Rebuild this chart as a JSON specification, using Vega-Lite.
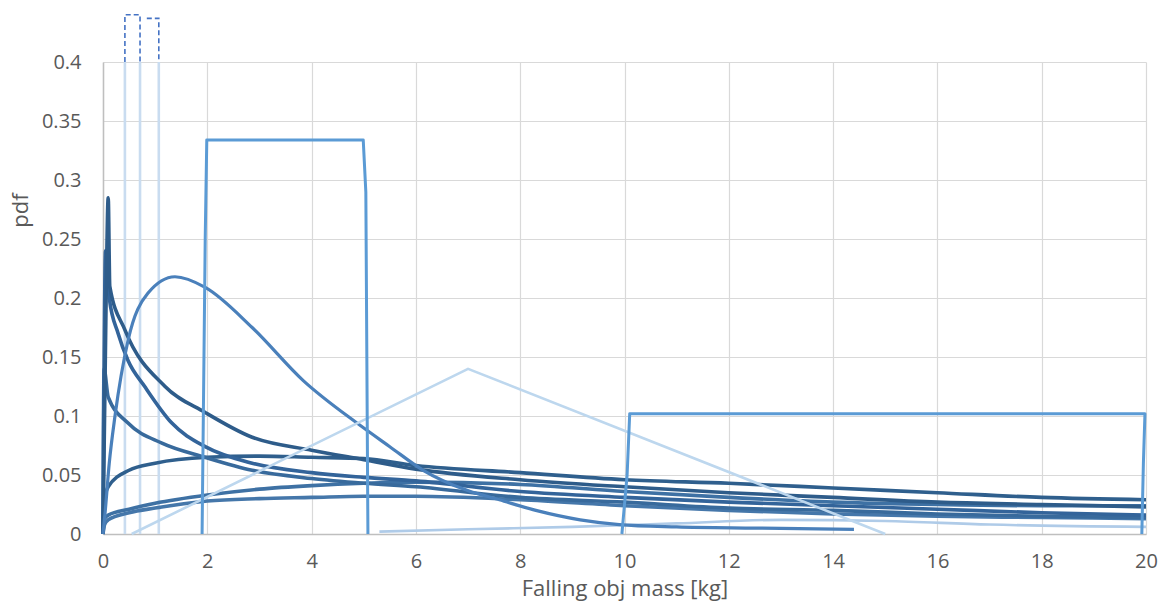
{
  "$schema": "https://vega.github.io/schema/vega-lite/v6.json",
  "width": 1043,
  "height": 472,
  "autosize": {"type": "none"},
  "padding": {"left": 103, "top": 62, "right": 22, "bottom": 78},
  "background": "white",
  "config": {
    "view": {"stroke": null},
    "axis": {
      "gridColor": "#D9D9D9",
      "gridWidth": 1.2,
      "domainColor": "#BFBFBF",
      "domainWidth": 1.5,
      "ticks": false,
      "labelFlush": false,
      "labelColor": "#595959",
      "labelFont": "Open Sans",
      "labelFontSize": 20,
      "titleColor": "#595959",
      "titleFont": "Open Sans",
      "titleFontSize": 22,
      "titleFontWeight": "normal"
    }
  },
  "datasets": {
    "verticals": [
      {"s": "V1", "i": 0, "x": 0.42, "y": 0},
      {"s": "V1", "i": 1, "x": 0.42, "y": 0.4},
      {"s": "V2", "i": 0, "x": 0.71, "y": 0},
      {"s": "V2", "i": 1, "x": 0.71, "y": 0.4},
      {"s": "V3", "i": 0, "x": 1.07, "y": 0},
      {"s": "V3", "i": 1, "x": 1.07, "y": 0.4}
    ],
    "light": [
      {"s": "L", "x": 5.3, "y": 0.002},
      {"s": "L", "x": 7, "y": 0.004},
      {"s": "L", "x": 9, "y": 0.006},
      {"s": "L", "x": 11, "y": 0.009},
      {"s": "L", "x": 13, "y": 0.012},
      {"s": "L", "x": 15, "y": 0.011},
      {"s": "L", "x": 17, "y": 0.008},
      {"s": "L", "x": 20, "y": 0.006}
    ],
    "dark": [
      {"s": "F", "x": 0, "y": 0},
      {"s": "F", "x": 0.03, "y": 0.008},
      {"s": "F", "x": 0.1, "y": 0.012},
      {"s": "F", "x": 0.5, "y": 0.018},
      {"s": "F", "x": 1, "y": 0.022},
      {"s": "F", "x": 2, "y": 0.028},
      {"s": "F", "x": 3, "y": 0.03},
      {"s": "F", "x": 4, "y": 0.031},
      {"s": "F", "x": 5, "y": 0.032},
      {"s": "F", "x": 6, "y": 0.032},
      {"s": "F", "x": 8, "y": 0.029},
      {"s": "F", "x": 10, "y": 0.024},
      {"s": "F", "x": 12, "y": 0.02},
      {"s": "F", "x": 14, "y": 0.017},
      {"s": "F", "x": 16, "y": 0.015},
      {"s": "F", "x": 18, "y": 0.014},
      {"s": "F", "x": 20, "y": 0.013},
      {"s": "E", "x": 0, "y": 0},
      {"s": "E", "x": 0.03, "y": 0.013},
      {"s": "E", "x": 0.1, "y": 0.016},
      {"s": "E", "x": 0.5, "y": 0.021},
      {"s": "E", "x": 1, "y": 0.026},
      {"s": "E", "x": 2, "y": 0.033},
      {"s": "E", "x": 3, "y": 0.038},
      {"s": "E", "x": 4, "y": 0.041},
      {"s": "E", "x": 5, "y": 0.043},
      {"s": "E", "x": 6, "y": 0.044},
      {"s": "E", "x": 8, "y": 0.042},
      {"s": "E", "x": 10, "y": 0.036},
      {"s": "E", "x": 12, "y": 0.031},
      {"s": "E", "x": 14, "y": 0.027},
      {"s": "E", "x": 16, "y": 0.025},
      {"s": "E", "x": 18, "y": 0.024},
      {"s": "E", "x": 20, "y": 0.024},
      {"s": "D", "x": 0, "y": 0.005},
      {"s": "D", "x": 0.02, "y": 0.028},
      {"s": "D", "x": 0.1, "y": 0.04},
      {"s": "D", "x": 0.5, "y": 0.054},
      {"s": "D", "x": 1, "y": 0.06},
      {"s": "D", "x": 2, "y": 0.065},
      {"s": "D", "x": 3, "y": 0.066},
      {"s": "D", "x": 4, "y": 0.065},
      {"s": "D", "x": 5, "y": 0.064},
      {"s": "D", "x": 6, "y": 0.058},
      {"s": "D", "x": 8, "y": 0.052},
      {"s": "D", "x": 10, "y": 0.046},
      {"s": "D", "x": 12, "y": 0.043},
      {"s": "D", "x": 14, "y": 0.039},
      {"s": "D", "x": 16, "y": 0.035},
      {"s": "D", "x": 18, "y": 0.031},
      {"s": "D", "x": 20, "y": 0.029},
      {"s": "C", "x": 0, "y": 0},
      {"s": "C", "x": 0.02, "y": 0.14},
      {"s": "C", "x": 0.1, "y": 0.116},
      {"s": "C", "x": 0.48, "y": 0.094},
      {"s": "C", "x": 1.13, "y": 0.077},
      {"s": "C", "x": 1.96, "y": 0.065},
      {"s": "C", "x": 2.86, "y": 0.054},
      {"s": "C", "x": 4, "y": 0.047},
      {"s": "C", "x": 5, "y": 0.043},
      {"s": "C", "x": 6, "y": 0.04},
      {"s": "C", "x": 8, "y": 0.031},
      {"s": "C", "x": 10, "y": 0.027},
      {"s": "C", "x": 12, "y": 0.022},
      {"s": "C", "x": 14, "y": 0.02},
      {"s": "C", "x": 16, "y": 0.017},
      {"s": "C", "x": 18, "y": 0.015},
      {"s": "C", "x": 20, "y": 0.014},
      {"s": "B", "x": 0, "y": 0},
      {"s": "B", "x": 0.05, "y": 0.24},
      {"s": "B", "x": 0.12, "y": 0.2},
      {"s": "B", "x": 0.29, "y": 0.17},
      {"s": "B", "x": 0.48, "y": 0.147},
      {"s": "B", "x": 0.8, "y": 0.125},
      {"s": "B", "x": 1.32, "y": 0.094},
      {"s": "B", "x": 1.96, "y": 0.074},
      {"s": "B", "x": 2.86, "y": 0.06},
      {"s": "B", "x": 4, "y": 0.052},
      {"s": "B", "x": 5, "y": 0.048},
      {"s": "B", "x": 6, "y": 0.045},
      {"s": "B", "x": 8, "y": 0.036},
      {"s": "B", "x": 10, "y": 0.031},
      {"s": "B", "x": 12, "y": 0.027},
      {"s": "B", "x": 14, "y": 0.024},
      {"s": "B", "x": 16, "y": 0.021},
      {"s": "B", "x": 18, "y": 0.018},
      {"s": "B", "x": 20, "y": 0.016},
      {"s": "A", "x": 0, "y": 0},
      {"s": "A", "x": 0.06, "y": 0.2},
      {"s": "A", "x": 0.1, "y": 0.285},
      {"s": "A", "x": 0.13, "y": 0.21},
      {"s": "A", "x": 0.42, "y": 0.173},
      {"s": "A", "x": 1.19, "y": 0.125},
      {"s": "A", "x": 1.96, "y": 0.103},
      {"s": "A", "x": 2.86, "y": 0.082},
      {"s": "A", "x": 4, "y": 0.071},
      {"s": "A", "x": 5, "y": 0.063},
      {"s": "A", "x": 6, "y": 0.055},
      {"s": "A", "x": 8, "y": 0.046},
      {"s": "A", "x": 10, "y": 0.04},
      {"s": "A", "x": 12, "y": 0.035},
      {"s": "A", "x": 14, "y": 0.031},
      {"s": "A", "x": 16, "y": 0.027},
      {"s": "A", "x": 18, "y": 0.025},
      {"s": "A", "x": 20, "y": 0.023}
    ],
    "lognorm": [
      {"s": "G", "x": 0, "y": 0},
      {"s": "G", "x": 0.04, "y": 0.018},
      {"s": "G", "x": 0.12, "y": 0.06},
      {"s": "G", "x": 0.23, "y": 0.1},
      {"s": "G", "x": 0.48, "y": 0.164},
      {"s": "G", "x": 0.86, "y": 0.204},
      {"s": "G", "x": 1.38, "y": 0.218},
      {"s": "G", "x": 1.96, "y": 0.209},
      {"s": "G", "x": 2.86, "y": 0.175},
      {"s": "G", "x": 3.84, "y": 0.13},
      {"s": "G", "x": 4.87, "y": 0.094},
      {"s": "G", "x": 5.5, "y": 0.074},
      {"s": "G", "x": 6.14, "y": 0.054},
      {"s": "G", "x": 6.98, "y": 0.037},
      {"s": "G", "x": 7.6, "y": 0.029},
      {"s": "G", "x": 8.3, "y": 0.02},
      {"s": "G", "x": 9.15, "y": 0.012},
      {"s": "G", "x": 9.9, "y": 0.008},
      {"s": "G", "x": 11, "y": 0.006},
      {"s": "G", "x": 12.5, "y": 0.005},
      {"s": "G", "x": 14.4, "y": 0.004}
    ],
    "tri": [
      {"s": "T", "i": 0, "x": 0.55, "y": 0},
      {"s": "T", "i": 1, "x": 7, "y": 0.14},
      {"s": "T", "i": 2, "x": 15, "y": 0}
    ],
    "unif": [
      {"s": "U25", "i": 0, "x": 1.9, "y": 0},
      {"s": "U25", "i": 1, "x": 1.96, "y": 0.25},
      {"s": "U25", "i": 2, "x": 1.99, "y": 0.334},
      {"s": "U25", "i": 3, "x": 4.99, "y": 0.334},
      {"s": "U25", "i": 4, "x": 5.04, "y": 0.29},
      {"s": "U25", "i": 5, "x": 5.08, "y": 0},
      {"s": "U1020", "i": 0, "x": 9.95, "y": 0},
      {"s": "U1020", "i": 1, "x": 10.05, "y": 0.05},
      {"s": "U1020", "i": 2, "x": 10.1, "y": 0.102},
      {"s": "U1020", "i": 3, "x": 19.98, "y": 0.102},
      {"s": "U1020", "i": 4, "x": 19.95, "y": 0.06},
      {"s": "U1020", "i": 5, "x": 19.92, "y": 0}
    ],
    "over": [
      {"s": "O1", "i": 0, "x": 0.42, "y": 0.4},
      {"s": "O1", "i": 1, "x": 0.42, "y": 0.44},
      {"s": "O1", "i": 2, "x": 0.71, "y": 0.44},
      {"s": "O1", "i": 3, "x": 0.71, "y": 0.4},
      {"s": "O2", "i": 0, "x": 0.84, "y": 0.437},
      {"s": "O2", "i": 1, "x": 1.07, "y": 0.437},
      {"s": "O2", "i": 2, "x": 1.07, "y": 0.4}
    ]
  },
  "encoding": {
    "x": {
      "field": "x", "type": "quantitative",
      "scale": {"domain": [0, 20], "nice": false},
      "axis": {
        "values": [0, 2, 4, 6, 8, 10, 12, 14, 16, 18, 20],
        "title": "Falling obj mass [kg]",
        "labelPadding": 17,
        "titleY": 44,
        "titleBaseline": "top"
      }
    },
    "y": {
      "field": "y", "type": "quantitative",
      "scale": {"domain": [0, 0.4], "nice": false, "zero": true},
      "axis": {
        "values": [0, 0.05, 0.1, 0.15, 0.2, 0.25, 0.3, 0.35, 0.4],
        "format": "~g",
        "title": "pdf",
        "labelPadding": 22,
        "titleX": -71,
        "titleY": 148,
        "titleAngle": 270,
        "titleAlign": "center",
        "titleBaseline": "bottom"
      }
    },
    "detail": {"field": "s"}
  },
  "layer": [
    {
      "data": {"name": "verticals"},
      "mark": {"type": "line", "color": "#C9DCF0", "strokeWidth": 2.6},
      "encoding": {"order": {"field": "i", "type": "quantitative"}}
    },
    {
      "data": {"name": "light"},
      "mark": {"type": "line", "color": "#AFCBE8", "strokeWidth": 2.6, "interpolate": "monotone"},
      "encoding": {}
    },
    {
      "data": {"name": "dark"},
      "mark": {"type": "line", "strokeWidth": 3.6, "interpolate": "monotone", "strokeJoin": "round"},
      "encoding": {
        "color": {
          "field": "s", "type": "nominal", "legend": null,
          "scale": {
            "domain": ["F", "E", "D", "C", "B", "A"],
            "range": ["#4577AA", "#3E71A4", "#2F5F8D", "#386A9C", "#33649A", "#2E5C8A"]
          }
        }
      }
    },
    {
      "data": {"name": "lognorm"},
      "mark": {"type": "line", "color": "#4A80BB", "strokeWidth": 3.2, "interpolate": "monotone"},
      "encoding": {}
    },
    {
      "data": {"name": "tri"},
      "mark": {"type": "line", "color": "#BDD7EE", "strokeWidth": 2.6},
      "encoding": {"order": {"field": "i", "type": "quantitative"}}
    },
    {
      "data": {"name": "unif"},
      "mark": {"type": "line", "color": "#5B9BD5", "strokeWidth": 3, "strokeJoin": "round"},
      "encoding": {"order": {"field": "i", "type": "quantitative"}}
    },
    {
      "data": {"name": "over"},
      "mark": {"type": "line", "strokeDash": [5, 3], "color": "#4472C4", "strokeWidth": 1.6, "clip": false},
      "encoding": {"order": {"field": "i", "type": "quantitative"}}
    }
  ]
}
